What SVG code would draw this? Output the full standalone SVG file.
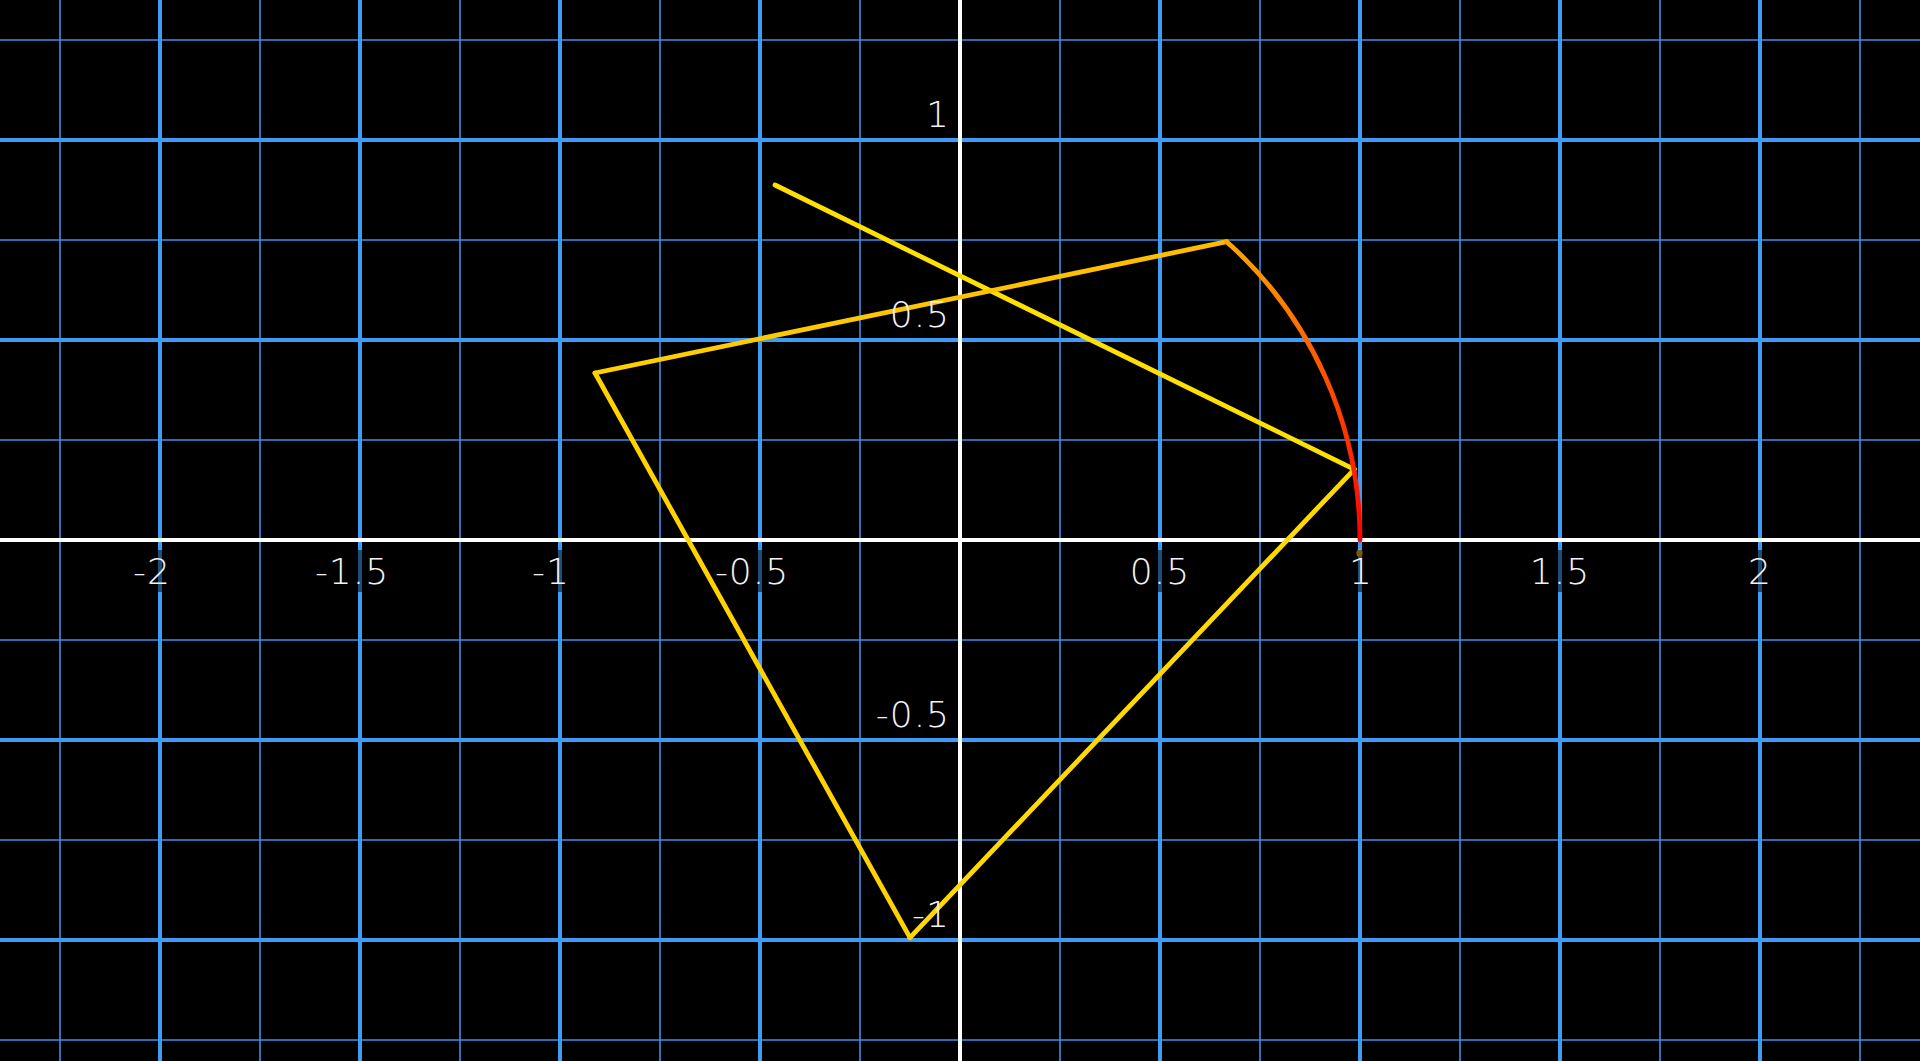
<svg xmlns="http://www.w3.org/2000/svg" width="1920" height="1061" viewBox="0 0 1920 1061">
<defs>
<style>
.minor{stroke:#3b8fe6;stroke-width:1.6;fill:none}
.major{stroke:#3d9cf6;stroke-width:4;fill:none}
.axis{stroke:#ffffff;stroke-width:4;fill:none}
.lbl{font-family:"DejaVu Sans",sans-serif;font-weight:200;font-size:36px;letter-spacing:1px;fill:#f2f2f2}
.xl{text-anchor:middle}
.yl{text-anchor:end}
.bg{fill:#000000;fill-opacity:0.5}
.poly{fill:none;stroke-width:4.8;stroke-linejoin:miter;stroke-linecap:round}
</style>
<linearGradient id="gArc" gradientUnits="userSpaceOnUse" x1="1226.7" y1="241.7" x2="1360" y2="540">
<stop offset="0" stop-color="#ffa800"/>
<stop offset="0.45" stop-color="#ff5a00"/>
<stop offset="1" stop-color="#ff0000"/>
</linearGradient>
<linearGradient id="gSeg4" gradientUnits="userSpaceOnUse" x1="595" y1="373" x2="1226.7" y2="241.7">
<stop offset="0" stop-color="#ffd000"/>
<stop offset="1" stop-color="#ffbb00"/>
</linearGradient>
</defs>
<rect x="0" y="0" width="1920" height="1061" fill="#000000"/>
<g id="grid-minor">
<path class="minor" d="M60 0V1061M260 0V1061M460 0V1061M660 0V1061M860 0V1061M1060 0V1061M1260 0V1061M1460 0V1061M1660 0V1061M1860 0V1061M0 40H1920M0 240H1920M0 440H1920M0 640H1920M0 840H1920M0 1040H1920"/>
</g>
<g id="grid-major">
<path class="major" d="M160 0V1061M360 0V1061M560 0V1061M760 0V1061M1160 0V1061M1360 0V1061M1560 0V1061M1760 0V1061M0 140H1920M0 340H1920M0 740H1920M0 940H1920"/>
</g>
<g id="axes">
<path class="axis" d="M960 0V1061M0 540H1920"/>
</g>
<g id="arc-dot">
<ellipse cx="1359.5" cy="553" rx="3.2" ry="3.8" fill="#f0b020"/>
</g>
<g id="label-bg">
<rect class="bg" x="128" y="550" width="46" height="42"/>
<rect class="bg" x="312" y="550" width="80" height="42"/>
<rect class="bg" x="528" y="550" width="44" height="42"/>
<rect class="bg" x="712" y="550" width="80" height="42"/>
<rect class="bg" x="1128" y="550" width="64" height="42"/>
<rect class="bg" x="1346" y="550" width="28" height="42"/>
<rect class="bg" x="1528" y="550" width="64" height="42"/>
<rect class="bg" x="1746" y="550" width="28" height="42"/>
</g>
<g id="connectors">
<path class="poly" stroke="#ffe000" d="M775 185L1354.3 469.3"/>
<path class="poly" stroke="#ffd900" d="M1354.3 469.3L910 937.7"/>
<path class="poly" stroke="#ffd200" d="M910 937.7L595 373"/>
<path class="poly" stroke="url(#gSeg4)" d="M595 373L1226.7 241.7"/>
<path class="poly" stroke="url(#gArc)" d="M1226.7 241.7A400 400 0 0 1 1360 540"/>
</g>
<g id="x-labels" class="lbl xl">
<text x="152" y="584">-2</text>
<text x="352" y="584">-1.5</text>
<text x="551" y="584">-1</text>
<text x="752" y="584">-0.5</text>
<text x="1160" y="584">0.5</text>
<text x="1361" y="584">1</text>
<text x="1560" y="584">1.5</text>
<text x="1760" y="584">2</text>
</g>
<g id="y-labels" class="lbl yl">
<text x="950" y="127">1</text>
<text x="950" y="327">0.5</text>
<text x="950" y="727">-0.5</text>
<text x="950" y="927">-1</text>
</g>
</svg>
